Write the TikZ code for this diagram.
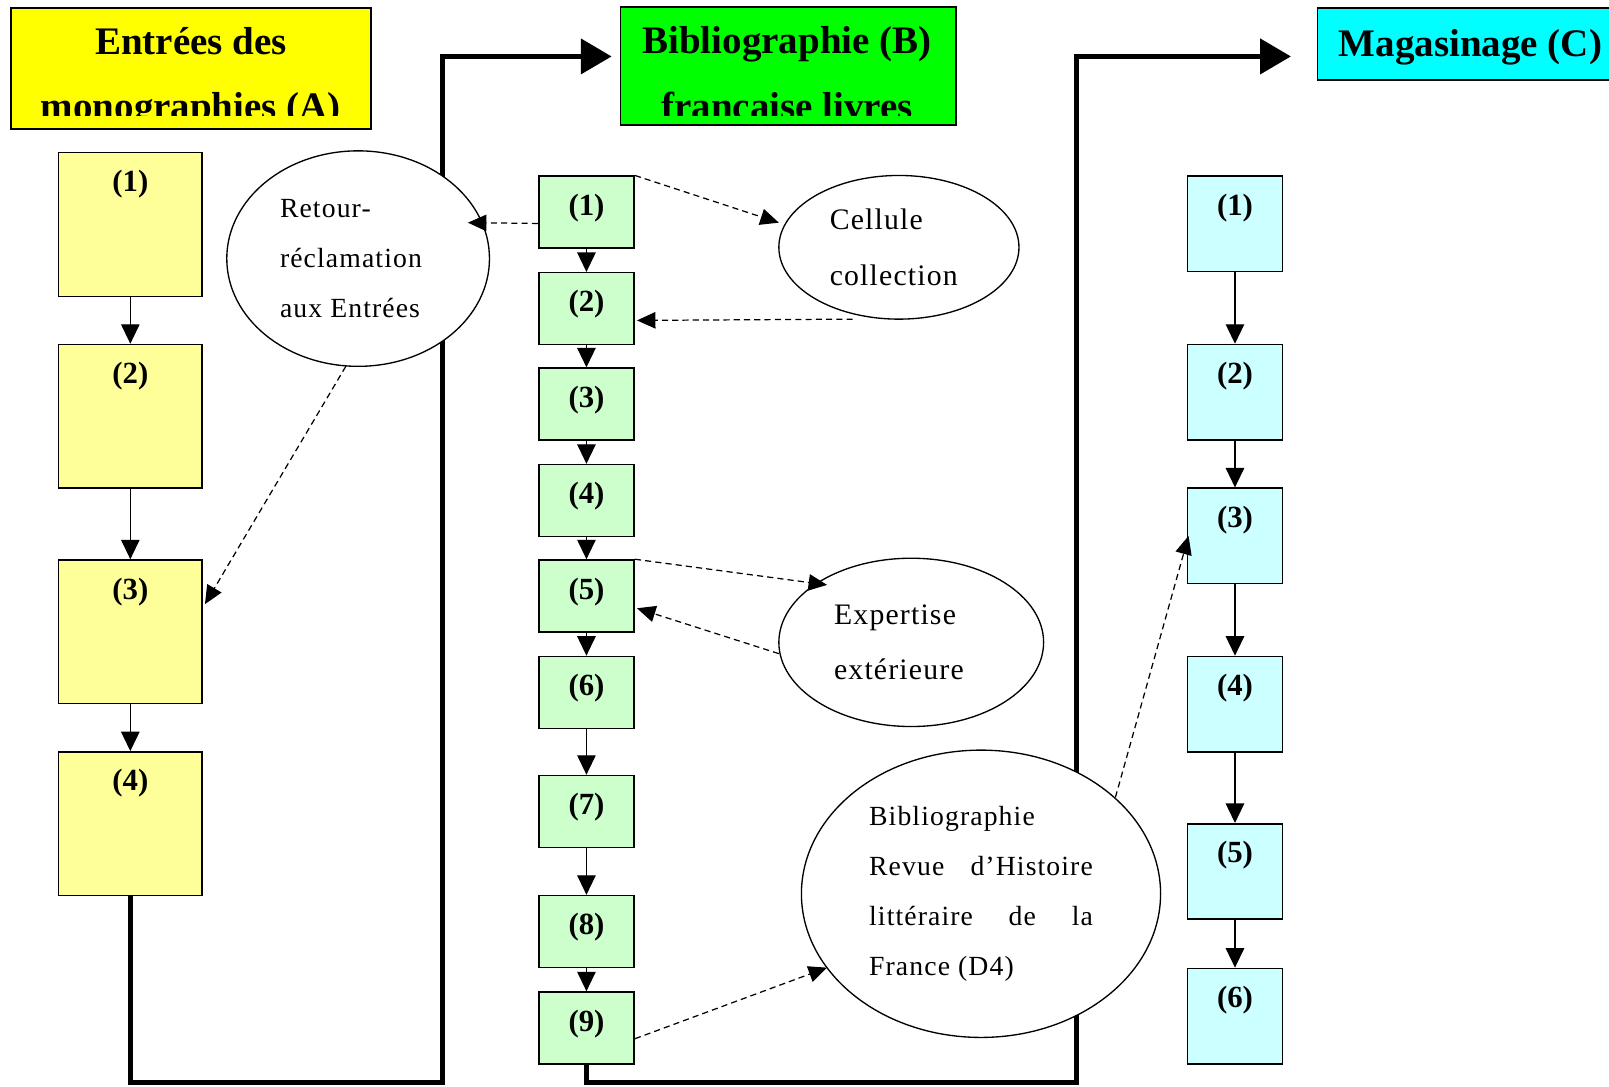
\documentclass[tikz,border=0pt]{standalone}
\usepackage{fontspec}
\setmainfont{Liberation Serif}
\usetikzlibrary{arrows.meta,shapes.geometric}
\definecolor{hyellow}{HTML}{FFFF00}
\definecolor{hgreen}{HTML}{00FF00}
\definecolor{hcyan}{HTML}{00FFFF}
\definecolor{lyellow}{HTML}{FFFF99}
\definecolor{lgreen}{HTML}{CCFFCC}
\definecolor{lcyan}{HTML}{CCFFFF}
\begin{document}
\begin{tikzpicture}[x=1pt,y=-1pt,
  header/.style={draw, line width=1.5pt, inner sep=0pt, anchor=north west},
  htext/.style={anchor=base, inner sep=0pt, font=\fontsize{38pt}{38pt}\selectfont\bfseries},
  stepbox/.style={draw, line width=1.5pt, inner sep=0pt, anchor=north, minimum width=#1,
     font=\fontsize{30pt}{30pt}\selectfont\bfseries, text height=38pt},
  boxA/.style={stepbox=140pt, fill=lyellow, text depth=102pt},
  boxB/.style={stepbox=93pt, fill=lgreen, text depth=32pt},
  boxC/.style={stepbox=93pt, fill=lcyan, text depth=55pt},
  ell/.style={draw, ellipse, fill=white, line width=1.3pt, inner sep=0pt, align=left},
  etext/.style n args={2}{font=\fontsize{#1}{#2}\selectfont\addfontfeature{LetterSpace=4}},
  flow/.style={line width=1.3pt, -{Triangle[length=19pt,width=18pt]}},
  dasharrow/.style={line width=1.2pt, dash pattern=on 6pt off 4pt, -{Triangle[length=18pt,width=16pt]}},
  bigline/.style={line width=4.5pt, line join=miter, -{Triangle[length=30pt,width=34pt]}}
]
\useasboundingbox (0,0) rectangle (1568,1059);

% thick routing lines (coordinates)
\coordinate (k1) at (431,1055);
\coordinate (k2) at (431,55);
\coordinate (k3) at (1049,1055);
\coordinate (k4) at (1049,55);

% headers
\node[header, fill=hyellow, minimum width=351pt, minimum height=118pt] (hA) at (10,7) {};
\node[header, fill=hgreen, minimum width=327pt, minimum height=115pt] (hB) at (604,6) {};
\node[header, fill=hcyan, minimum width=300pt, minimum height=70pt] (hC) at (1283,7) {};
\begin{scope}
  \clip (10,7) rectangle (361,113);
  \node[htext] (hA1) at (186,53) {Entrées des};
  \node[htext] (hA2) at (186,116) {monographies (A)};
\end{scope}
\begin{scope}
  \clip (604,6) rectangle (931,113);
  \node[htext] (hB1) at (767,52) {Bibliographie (B)};
  \node[htext] (hB2) at (767,116) {francaise livres};
\end{scope}
\node[htext] (hC1) at (1433,55) {Magasinage (C)};

% column A
\node[boxA] (A1) at (127,148) {(1)};
\node[boxA] (A2) at (127,335) {(2)};
\node[boxA] (A3) at (127,545) {(3)};
\node[boxA] (A4) at (127,732) {(4)};

% column B
\node[boxB] (B1) at (571.5,171) {(1)};
\node[boxB] (B2) at (571.5,265) {(2)};
\node[boxB] (B3) at (571.5,358) {(3)};
\node[boxB] (B4) at (571.5,452) {(4)};
\node[boxB] (B5) at (571.5,545) {(5)};
\node[boxB] (B6) at (571.5,639) {(6)};
\node[boxB] (B7) at (571.5,755) {(7)};
\node[boxB] (B8) at (571.5,872) {(8)};
\node[boxB] (B9) at (571.5,966) {(9)};

% column C
\node[boxC] (C1) at (1203.5,171) {(1)};
\node[boxC] (C2) at (1203.5,335) {(2)};
\node[boxC] (C3) at (1203.5,475) {(3)};
\node[boxC] (C4) at (1203.5,639) {(4)};
\node[boxC] (C5) at (1203.5,802) {(5)};
\node[boxC] (C6) at (1203.5,943) {(6)};

% big routing arrows
\path (hB.west |- k2) ++(-8,0) coordinate (tB);
\path (hC.west |- k4) ++(-25,0) coordinate (tC);
\draw[bigline] (A4.south) |- (k1) -- (k2) -- (tB);
\draw[bigline] (B9.south) |- (k3) -- (k4) -- (tC);

% ellipses
\node[ell, etext={27pt}{49pt}, minimum width=256pt, minimum height=210pt] (E1) at (349,252)
  {Retour-\\réclamation\rule{14pt}{0pt}\\aux Entrées};
\node[ell, etext={29pt}{54pt}, minimum width=234pt, minimum height=140pt] (E2) at (876,241)
  {Cellule\\collection\rule{10pt}{0pt}};
\node[ell, etext={29pt}{54pt}, minimum width=258pt, minimum height=164pt] (E3) at (888,626)
  {Expertise\\extérieure\rule{24pt}{0pt}};
\node[ell, etext={27pt}{49pt}, minimum width=350pt, minimum height=280pt] (E4) at (956,871)
  {Bibliographie\\\makebox[218pt][s]{Revue d’Histoire}\\\makebox[218pt][s]{littéraire de la}\\France (D4)};

% flow arrows
\draw[flow] (A1) -- (A2);
\draw[flow] (A2) -- (A3);
\draw[flow] (A3) -- (A4);
\draw[flow] (B1) -- (B2);
\draw[flow] (B2) -- (B3);
\draw[flow] (B3) -- (B4);
\draw[flow] (B4) -- (B5);
\draw[flow] (B5) -- (B6);
\draw[flow] (B6) -- (B7);
\draw[flow] (B7) -- (B8);
\draw[flow] (B8) -- (B9);
\draw[flow] (C1) -- (C2);
\draw[flow] (C2) -- (C3);
\draw[flow] (C3) -- (C4);
\draw[flow] (C4) -- (C5);
\draw[flow] (C5) -- (C6);

% dashed connectors
\draw[dasharrow] ([yshift=-11pt]B1.west) -- ([shift={(107,-35)}]E1.center);
\draw[dasharrow] (B1.north east) -- ([shift={(-117,-24)}]E2.center);
\draw[dasharrow] ([shift={(-45,70)}]E2.center) -- ([shift={(2,11.5)}]B2.east);
\draw[dasharrow] ([shift={(-12,105)}]E1.center) -- ([shift={(2,-27)}]A3.east);
\draw[dasharrow] (B5.north east) -- ([shift={(-82,-56)}]E3.center);
\draw[dasharrow] ([shift={(-129,11)}]E3.center) -- ([shift={(2,12)}]B5.east);
\draw[dasharrow] ([yshift=-10.5pt]B9.east) -- ([shift={(-150,72)}]E4.center);
\draw[dasharrow] ([shift={(131,-94)}]E4.center) -- ([xshift=2pt]C3.west);
\end{tikzpicture}
\end{document}
